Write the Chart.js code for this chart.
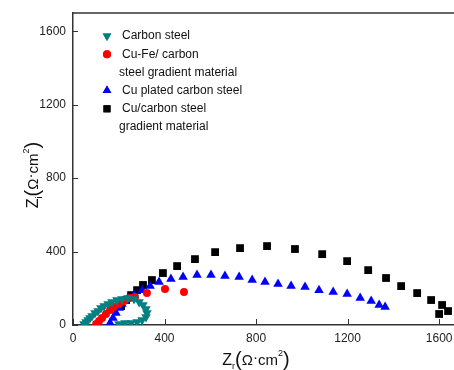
<!DOCTYPE html>
<html>
<head>
<meta charset="utf-8">
<script src="https://cdn.jsdelivr.net/npm/chart.js@4"></script>
<style>
  html, body { margin: 0; padding: 0; background: #fff; overflow: hidden; }
  #wrap { width: 454px; height: 370px; }
  canvas { display: block; }
</style>
</head>
<body>
<div id="wrap"><canvas id="eis"></canvas></div>
<script>
// tick labels
const xTicks = [0, 400, 800, 1200, 1600];
const yTicks = [0, 400, 800, 1200, 1600];

// series: Zr, Zi  (Ohm cm2)
const carbonZr = [48, 57, 66, 74, 83, 96, 109, 122, 136, 153, 170, 192, 214, 240, 267, 289, 306, 319, 323, 319, 302, 280, 254, 227, 201];
const carbonZi = [5, 16, 27, 38, 49, 65, 76, 93, 103, 114, 125, 136, 141, 147, 141, 125, 109, 87, 65, 44, 27, 16, 11, 11, 5];

const cuFeZr = [101, 114, 127, 144, 162, 179, 201, 223, 249, 271, 323, 402, 485];
const cuFeZi = [5, 22, 38, 60, 82, 98, 114, 131, 147, 152, 174, 196, 180];

const cuPlatedZr = [162, 175, 188, 201, 214, 227, 240, 267, 302, 337, 376, 428, 481, 542, 603, 664, 726, 783, 839, 896, 953, 1014, 1075, 1137, 1198, 1255, 1303, 1338, 1364];
const cuPlatedZi = [11, 38, 65, 93, 114, 131, 147, 163, 190, 212, 234, 250, 261, 272, 272, 267, 261, 245, 234, 223, 212, 207, 190, 180, 169, 147, 131, 109, 98];

const cuGradZr = [210, 232, 254, 280, 306, 345, 393, 455, 533, 621, 730, 848, 970, 1089, 1198, 1290, 1368, 1434, 1504, 1565, 1613, 1639, 1600];
const cuGradZi = [103, 136, 163, 190, 218, 245, 283, 321, 359, 397, 419, 430, 414, 386, 348, 299, 256, 212, 174, 136, 109, 76, 60];

function pts(xs, ys) {
  return xs.map((x, i) => ({ x: x, y: ys[i] }));
}

const TEAL = '#008080', RED = '#ff0000', BLUE = '#0000ff', BLACK = '#000000';
const AXIS = '#333333';
const FONT = '"Liberation Sans", Arial, sans-serif';

// legend rows, drawn inside the plot
const legendRows = [
  { style: 'triangle', rot: 180, color: TEAL, lines: ['Carbon steel'] },
  { style: 'circle', rot: 0, color: RED, lines: ['Cu-Fe/ carbon', 'steel gradient material'] },
  { style: 'triangle', rot: 0, color: BLUE, lines: ['Cu plated carbon steel'] },
  { style: 'rect', rot: 0, color: BLACK, lines: ['Cu/carbon steel', 'gradient material'] }
];

function drawRuns(ctx, runs, x, y) {
  // runs: [text, size, dy]
  let w = 0;
  runs.forEach(r => { ctx.font = r[1] + 'px ' + FONT; w += ctx.measureText(r[0]).width; });
  let cx = x - w / 2;
  runs.forEach(r => {
    ctx.font = r[1] + 'px ' + FONT;
    ctx.fillText(r[0], cx, y + r[2]);
    cx += ctx.measureText(r[0]).width;
  });
}

const titleRuns = sub => [['Z', 16, 0], [sub, 9, 4], ['(', 20, 1], ['Ω', 15, 0], ['·', 15, -3], ['cm', 15, 0], ['2', 9, -9], [')', 20, 1]];

const extras = {
  id: 'extras',
  afterDraw(chart) {
    const ctx = chart.ctx;
    const a = chart.chartArea;
    const xs = chart.scales.x, ys = chart.scales.y;
    ctx.save();
    ctx.strokeStyle = AXIS;
    ctx.lineWidth = 1.5;
    // top frame
    ctx.beginPath();
    ctx.moveTo(a.left, a.top);
    ctx.lineTo(a.right, a.top);
    ctx.stroke();
    ctx.lineWidth = 1;
    // ticks point inward on both axes
    xTicks.forEach(v => {
      const px = Math.round(xs.getPixelForValue(v)) + 0.5;
      ctx.beginPath();
      ctx.moveTo(px, a.bottom);
      ctx.lineTo(px, a.bottom - 6);
      ctx.stroke();
    });
    yTicks.forEach(v => {
      const py = Math.round(ys.getPixelForValue(v)) + 0.5;
      ctx.beginPath();
      ctx.moveTo(a.left, py);
      ctx.lineTo(a.left + 5, py);
      ctx.stroke();
    });

    // axis titles
    ctx.fillStyle = '#111';
    ctx.textBaseline = 'alphabetic';
    ctx.textAlign = 'left';
    drawRuns(ctx, titleRuns('r'), 256, 365);
    ctx.save();
    ctx.translate(38, 175);
    ctx.rotate(-Math.PI / 2);
    drawRuns(ctx, titleRuns('i'), 0, 0);
    ctx.restore();

    // legend
    ctx.font = '12px ' + FONT;
    ctx.textBaseline = 'middle';
    let y = 36;
    legendRows.forEach(r => {
      ctx.fillStyle = r.color;
      ctx.strokeStyle = r.color;
      Chart.helpers.drawPoint(ctx, { pointStyle: r.style, rotation: r.rot, radius: r.style === 'circle' ? 4 : 5, borderWidth: 0 }, 107, y);
      ctx.fill();
      ctx.fillStyle = '#111';
      r.lines.forEach((t, i) => {
        ctx.fillText(t, i === 0 ? 122 : 119, y);
        y += 18.2;
      });
    });
    ctx.restore();
  }
};

function ds(label, data, color, style, rot, radius) {
  return {
    label: label,
    data: data,
    showLine: false,
    pointStyle: style,
    rotation: rot,
    pointRadius: radius,
    pointHoverRadius: radius,
    backgroundColor: color,
    borderColor: color,
    borderWidth: 0
  };
}

new Chart(document.getElementById('eis'), {
  type: 'scatter',
  data: {
    datasets: [
      ds('Carbon steel', pts(carbonZr, carbonZi), TEAL, 'triangle', 180, 5.5),
      ds('Cu-Fe/ carbon steel gradient material', pts(cuFeZr, cuFeZi), RED, 'circle', 0, 4),
      ds('Cu plated carbon steel', pts(cuPlatedZr, cuPlatedZi), BLUE, 'triangle', 0, 5.5),
      ds('Cu/carbon steel gradient material', pts(cuGradZr, cuGradZi), BLACK, 'rect', 0, 5.5)
    ]
  },
  options: {
    responsive: true,
    maintainAspectRatio: false,
    animation: false,
    layout: { autoPadding: false, padding: { top: 13, right: 0, left: 0, bottom: 0 } },
    plugins: {
      legend: { display: false },
      tooltip: { enabled: false }
    },
    scales: {
      x: {
        type: 'linear',
        min: 0,
        max: 1665,
        afterBuildTicks: s => { s.ticks = xTicks.map(v => ({ value: v })); },
        afterFit: s => { s.height = 45; s.paddingLeft = 0; s.paddingRight = 0; },
        grid: { display: false, tickLength: 6 },
        border: { display: true, color: AXIS, width: 1.5 },
        ticks: {
          color: '#222',
          padding: 0,
          maxRotation: 0,
          callback: v => String(v),
          font: { family: FONT, size: 12 }
        }
      },
      y: {
        type: 'linear',
        min: 0,
        max: 1700,
        afterBuildTicks: s => { s.ticks = yTicks.map(v => ({ value: v })); },
        afterFit: s => { s.width = 73; s.paddingTop = 0; s.paddingBottom = 0; },
        grid: { display: false, tickLength: 7 },
        border: { display: true, color: AXIS, width: 1.5 },
        ticks: {
          color: '#222',
          padding: 0,
          callback: v => String(v),
          font: { family: FONT, size: 12 }
        }
      }
    }
  },
  plugins: [extras]
});
</script>
</body>
</html>
